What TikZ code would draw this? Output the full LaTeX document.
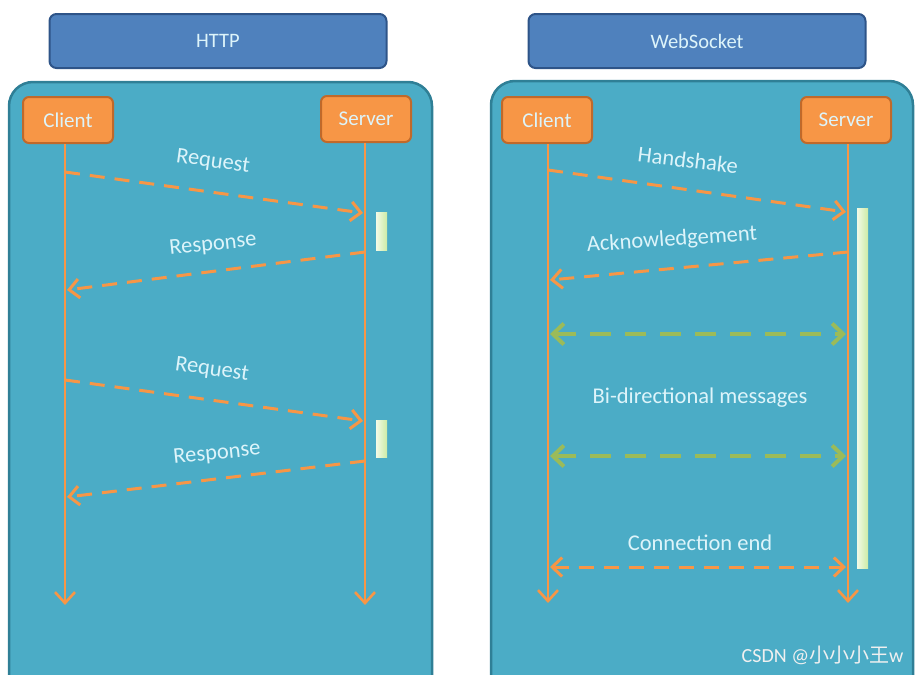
\documentclass[tikz,border=0pt]{standalone}
\usepackage{fontspec}
\setmainfont{Carlito}
\newfontfamily\cjk{Noto Sans CJK SC}
\usetikzlibrary{arrows.meta}
\definecolor{panel}{HTML}{4BACC6}
\definecolor{panelborder}{HTML}{2F7F96}
\definecolor{hdr}{HTML}{4F81BD}
\definecolor{hdrborder}{HTML}{2E5488}
\definecolor{org}{HTML}{F79646}
\definecolor{orgborder}{HTML}{C0692A}
\definecolor{grn}{HTML}{9BBB59}
\definecolor{txt}{HTML}{DDF4FA}
\definecolor{barL}{HTML}{F2FAE6}
\definecolor{barR}{HTML}{CDEBA6}
\tikzset{
  x=1pt, y=-1pt,
  panelbox/.style={draw=panelborder, line width=2.5pt, fill=panel, rounded corners=24pt},
  header/.style={draw=hdrborder, line width=2pt, fill=hdr, rounded corners=7pt, minimum width=337pt, minimum height=54pt, text=txt, font=\fontsize{20.5}{24}\selectfont},
  actor/.style={draw=orgborder, line width=2pt, fill=org, rounded corners=6pt, minimum width=90pt, minimum height=46pt, text=txt, font=\fontsize{21}{24}\selectfont},
  lifeline/.style={draw=org, line width=2.6pt, -{Straight Barb[length=11pt,width=20pt,line width=2.6pt]}},
  msg/.style={draw=org, line width=3pt, dash pattern=on 15pt off 10pt, -{Straight Barb[length=10pt,width=19pt,line width=3pt]}},
  bimsg/.style={draw=org, line width=3pt, dash pattern=on 15pt off 10pt, {Straight Barb[length=10pt,width=19pt,line width=3pt]}-{Straight Barb[length=10pt,width=19pt,line width=3pt]}},
  gmsg/.style={draw=grn, line width=4pt, dash pattern=on 21pt off 14pt, {Straight Barb[length=11pt,width=21pt,line width=4pt]}-{Straight Barb[length=11pt,width=21pt,line width=4pt]}},
  lbl/.style={text=txt, font=\fontsize{22.5}{26}\selectfont},
  bar/.style={draw=none, left color=barL, right color=barR},
}
\begin{document}
\begin{tikzpicture}
\useasboundingbox (0,0) rectangle (922,675);
\clip (0,0) rectangle (922,675);
% panels
\path[panelbox] (9,82) rectangle (432,720);
\path[panelbox] (491,81) rectangle (913,720);
% headers
\node[header] (h1) at (218,41) {HTTP};
\node[header] (h2) at (697,41) {WebSocket};
% HTTP actors
\node[actor] (c1) at (68,120) {Client};
\node[actor] (s1) at (366,119) {Server};
\coordinate (c1end) at (65,605);
\coordinate (s1end) at (365,605);
\draw[lifeline] (c1.south -| c1end) -- (c1end);
\draw[lifeline] (s1.south -| s1end) -- (s1end);
% activation bars
\path[bar] (376,212) rectangle (387,250);
\path[bar] (376,420) rectangle (387,457);
% HTTP messages
\coordinate (a1) at (65,172); \coordinate (b1) at (363,213);
\coordinate (a2) at (365,252); \coordinate (b2) at (67,290);
\coordinate (a3) at (65,380); \coordinate (b3) at (363,421);
\coordinate (a4) at (365,461); \coordinate (b4) at (67,497);
\draw[msg] (a1) -- (b1);
\draw[msg] (a2) -- (b2);
\draw[msg] (a3) -- (b3);
\draw[msg] (a4) -- (b4);
\node[lbl, rotate=-8] (l1) at (213,162) {Request};
\node[lbl, rotate=6] (l2) at (213,245) {Response};
\node[lbl, rotate=-8] (l3) at (212,370) {Request};
\node[lbl, rotate=6] (l4) at (217,454) {Response};
% WebSocket actors
\node[actor] (c2) at (547,120) {Client};
\node[actor] (s2) at (846,120) {Server};
\coordinate (c2end) at (548,603);
\coordinate (s2end) at (848,603);
\draw[lifeline] (c2.south -| c2end) -- (c2end);
\draw[lifeline] (s2.south -| s2end) -- (s2end);
\path[bar] (857,208) rectangle (868,568);
% WebSocket messages
\coordinate (w1) at (548,170); \coordinate (x1) at (846,212);
\coordinate (w2) at (848,252); \coordinate (x2) at (550,280);
\coordinate (w3) at (550,334); \coordinate (x3) at (846,334);
\coordinate (w4) at (550,456); \coordinate (x4) at (846,456);
\coordinate (w5) at (550,567); \coordinate (x5) at (846,567);
\draw[msg] (w1) -- (x1);
\draw[msg] (w2) -- (x2);
\draw[gmsg] (w3) -- (x3);
\draw[gmsg] (w4) -- (x4);
\draw[bimsg] (w5) -- (x5);
\node[lbl, rotate=-7] (m1) at (688,160) {Handshake};
\node[lbl, rotate=4] (m2) at (672,240) {Acknowledgement};
\node[lbl] (m3) at (700,398) {Bi-directional messages};
\node[lbl] (m5) at (700,543) {Connection end};
% watermark
\node[text=white!88!gray, font=\fontsize{20}{24}\selectfont, anchor=east] (wm) at (907,655) {CSDN @{\cjk 小小小王}w};
\end{tikzpicture}
\end{document}
